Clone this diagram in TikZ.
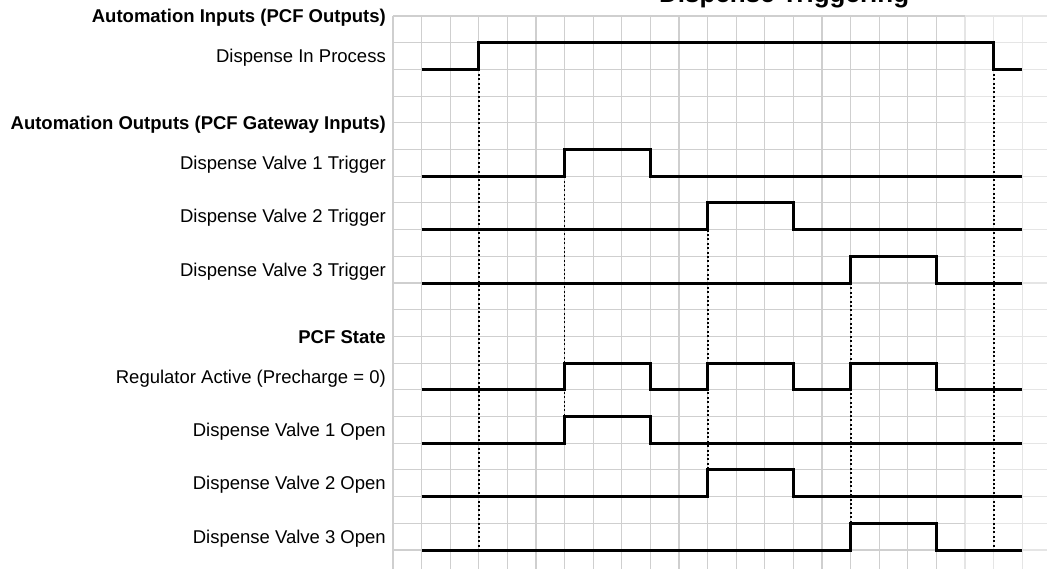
\documentclass[tikz,border=0pt]{standalone}
\usepackage{fontspec}
\setmainfont{Liberation Sans}

\tikzstyle{gridline} = [
line width=1.1pt,
draw=gray!38
]
\tikzstyle{fadegrid} = [
line width=1.1pt,
draw=gray!20
]
\tikzstyle{signal} = [
line width=3pt,
line join=miter,
draw=black
]
\tikzstyle{marker} = [
line width=1.8pt,
dash pattern=on 2pt off 2.4pt,
draw=black
]
\tikzstyle{groupname} = [
anchor=base east,
inner sep=0pt,
font=\bfseries\fontsize{18.5}{22}\selectfont
]
\tikzstyle{signame} = [
anchor=base east,
inner sep=0pt,
font=\fontsize{18.5}{22}\selectfont
]

\begin{document}
\begin{tikzpicture}[
x=28.6pt,
y=-26.7pt
]
\useasboundingbox (-13.741,-0.599) rectangle (22.867,20.712);

% Grid
\foreach \col in {0,...,19}
  \draw [gridline] (\col,0) -- (\col,20.712);
\foreach \col in {20,21,22}
  \draw [fadegrid] (\col,0) -- (\col,20.712);
\foreach \row in {0,...,20} {
  \draw [gridline] (0,\row) -- (20,\row);
  \draw [fadegrid] (20,\row) -- (22.867,\row);
}

% Title (cut off by the page)
\node (title) [anchor=base west, inner sep=0pt,
  font=\bfseries\fontsize{26}{30}\selectfont] at (9.3,-0.49)
{Dispense Triggering};

% Group headings
\node (autoin) [groupname] at (-0.245,0.25) {Automation Inputs (PCF Outputs)};
\node (autoout) [groupname] at (-0.245,4.25) {Automation Outputs (PCF Gateway Inputs)};
\node (pcfstate) [groupname] at (-0.245,12.25) {PCF State};

% Signal names
\node (dip) [signame] at (-0.245,1.75) {Dispense In Process};
\node (trig1) [signame] at (-0.245,5.75) {Dispense Valve 1 Trigger};
\node (trig2) [signame] at (-0.245,7.75) {Dispense Valve 2 Trigger};
\node (trig3) [signame] at (-0.245,9.75) {Dispense Valve 3 Trigger};
\node (reg) [signame] at (-0.245,13.75) {Regulator Active (Precharge = 0)};
\node (open1) [signame] at (-0.245,15.75) {Dispense Valve 1 Open};
\node (open2) [signame] at (-0.245,17.75) {Dispense Valve 2 Open};
\node (open3) [signame] at (-0.245,19.75) {Dispense Valve 3 Open};

% Edge markers
\draw [marker] (3,2) -- (3,20);
\draw [marker] (21,2) -- (21,20);
\draw [marker] (6,6) -- (6,15);
\draw [marker] (11,8) -- (11,17);
\draw [marker] (16,10) -- (16,19);

% Waveforms
\draw [signal] (1,2) -- (3,2) -- (3,1) -- (21,1) -- (21,2) -- (22,2);
\foreach \low/\on/\off in {6/6/9, 8/11/14, 10/16/19, 16/6/9, 18/11/14, 20/16/19}
  \draw [signal] (1,\low) -- (\on,\low) -- (\on,\low-1) -- (\off,\low-1)
    -- (\off,\low) -- (22,\low);
\draw [signal] (1,14) -- (6,14) -- (6,13) -- (9,13) -- (9,14) -- (11,14)
  -- (11,13) -- (14,13) -- (14,14) -- (16,14) -- (16,13) -- (19,13)
  -- (19,14) -- (22,14);

\end{tikzpicture}
\end{document}
